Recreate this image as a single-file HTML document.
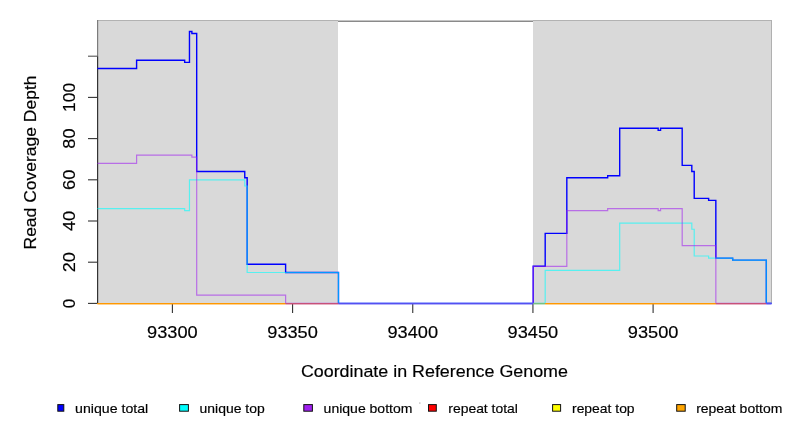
<!DOCTYPE html>
<html><head><meta charset="utf-8"><style>
html,body{margin:0;padding:0;background:#fff;width:792px;height:432px;overflow:hidden}
svg{display:block;will-change:transform}
text{font-family:"Liberation Sans",sans-serif;stroke:#000;stroke-width:0.18px;fill:#000}
</style></head><body>
<svg width="792" height="432" viewBox="0 0 792 432">
<rect x="97.40" y="20.40" width="240.60" height="283.00" fill="#d9d9d9"/>
<rect x="533" y="20.40" width="238.50" height="283.00" fill="#d9d9d9"/>
<rect x="97.40" y="20" width="240.60" height="1" fill="#b2b2b2"/>
<rect x="533" y="20" width="238.50" height="1" fill="#b2b2b2"/>
<rect x="338" y="20" width="195" height="1" fill="#c4c4c4"/>
<rect x="338" y="21" width="195" height="1" fill="#8a8a8a"/>
<rect x="771" y="20" width="1" height="283.40" fill="#b0b0b0"/>
<rect x="97" y="20" width="1.2" height="36.20" fill="#7c7c7c"/>
<rect x="97" y="56.20" width="1.2" height="247.80" fill="#333"/>
<line x1="88" x2="97.5" y1="303.40" y2="303.40" stroke="#333" stroke-width="1.1"/>
<line x1="88" x2="97.5" y1="262.20" y2="262.20" stroke="#333" stroke-width="1.1"/>
<line x1="88" x2="97.5" y1="221.00" y2="221.00" stroke="#333" stroke-width="1.1"/>
<line x1="88" x2="97.5" y1="179.80" y2="179.80" stroke="#333" stroke-width="1.1"/>
<line x1="88" x2="97.5" y1="138.60" y2="138.60" stroke="#333" stroke-width="1.1"/>
<line x1="88" x2="97.5" y1="97.40" y2="97.40" stroke="#333" stroke-width="1.1"/>
<line x1="88" x2="97.5" y1="56.20" y2="56.20" stroke="#555" stroke-width="1.1"/>
<line x1="172.40" x2="172.40" y1="303.40" y2="313" stroke="#333" stroke-width="1.1"/>
<line x1="292.58" x2="292.58" y1="303.40" y2="313" stroke="#333" stroke-width="1.1"/>
<line x1="412.75" x2="412.75" y1="303.40" y2="313" stroke="#333" stroke-width="1.1"/>
<line x1="532.93" x2="532.93" y1="303.40" y2="313" stroke="#333" stroke-width="1.1"/>
<line x1="653.10" x2="653.10" y1="303.40" y2="313" stroke="#333" stroke-width="1.1"/>
<line x1="97.40" x2="285.61" y1="303.60" y2="303.60" stroke="#ff9800" stroke-width="1.3"/>
<line x1="285.61" x2="338.49" y1="303.60" y2="303.60" stroke="#c8507a" stroke-width="1.3"/>
<line x1="338.49" x2="533.18" y1="303.60" y2="303.60" stroke="#5450f2" stroke-width="1.4"/>
<line x1="533.18" x2="545.19" y1="303.60" y2="303.60" stroke="#78c080" stroke-width="1.3"/>
<line x1="545.19" x2="715.84" y1="303.60" y2="303.60" stroke="#ff9800" stroke-width="1.3"/>
<line x1="715.84" x2="766.31" y1="303.60" y2="303.60" stroke="#c8507a" stroke-width="1.3"/>
<line x1="766.31" x2="771.50" y1="303.60" y2="303.60" stroke="#5450f2" stroke-width="1.4"/>
<path d="M97.40,68.56H136.60V60.32H184.67V62.38H189.47V31.48H191.88V33.54H196.69V171.56H244.75V177.74H247.16V264.26H285.61V272.50H338.49V303.40H533.18V266.32H545.19V233.36H566.82V177.74H607.68V175.68H619.70V128.30H658.16V130.36H660.56V128.30H682.19V165.38H691.81V171.56H694.21V198.34H708.63V200.40H715.84V258.08H732.67V260.14H766.31V303.40H771.50" fill="none" stroke="#0000ff" stroke-width="1.4"/>
<path d="M97.40,208.64H184.67V210.70H189.47V179.80H244.75V185.98H247.16V272.50H338.49V303.40H545.19V270.44H619.70V223.06H691.81V229.24H694.21V256.02H708.63V258.08H732.67V260.14H766.31V303.40H771.50" fill="none" stroke="#00ffff" stroke-width="1.2" stroke-opacity="0.6"/>
<path d="M97.40,163.32H136.60V155.08H191.88V157.14H196.69V295.16H285.61V303.40H533.18V266.32H566.82V210.70H607.68V208.64H658.16V210.70H660.56V208.64H682.19V245.72H715.84V303.40H771.50" fill="none" stroke="#a020f0" stroke-width="1.2" stroke-opacity="0.58"/>
<line x1="97.40" x2="285.61" y1="303.60" y2="303.60" stroke="#ff9800" stroke-width="1.3"/>
<line x1="285.61" x2="338.49" y1="303.60" y2="303.60" stroke="#c8507a" stroke-width="1.3"/>
<line x1="338.49" x2="533.18" y1="303.60" y2="303.60" stroke="#5450f2" stroke-width="1.4"/>
<line x1="533.18" x2="545.19" y1="303.60" y2="303.60" stroke="#78c080" stroke-width="1.3"/>
<line x1="545.19" x2="715.84" y1="303.60" y2="303.60" stroke="#ff9800" stroke-width="1.3"/>
<line x1="715.84" x2="766.31" y1="303.60" y2="303.60" stroke="#c8507a" stroke-width="1.3"/>
<line x1="766.31" x2="771.50" y1="303.60" y2="303.60" stroke="#5450f2" stroke-width="1.4"/>
<text x="172.40" y="337.8" font-family="Liberation Sans, sans-serif" font-size="17" text-anchor="middle" textLength="50.6" lengthAdjust="spacingAndGlyphs">93300</text>
<text x="292.58" y="337.8" font-family="Liberation Sans, sans-serif" font-size="17" text-anchor="middle" textLength="50.6" lengthAdjust="spacingAndGlyphs">93350</text>
<text x="412.75" y="337.8" font-family="Liberation Sans, sans-serif" font-size="17" text-anchor="middle" textLength="50.6" lengthAdjust="spacingAndGlyphs">93400</text>
<text x="532.93" y="337.8" font-family="Liberation Sans, sans-serif" font-size="17" text-anchor="middle" textLength="50.6" lengthAdjust="spacingAndGlyphs">93450</text>
<text x="653.10" y="337.8" font-family="Liberation Sans, sans-serif" font-size="17" text-anchor="middle" textLength="50.6" lengthAdjust="spacingAndGlyphs">93500</text>
<text transform="translate(75.2,303.40) rotate(-90)" font-family="Liberation Sans, sans-serif" font-size="16.6" text-anchor="middle" textLength="9.5" lengthAdjust="spacingAndGlyphs">0</text>
<text transform="translate(75.2,262.20) rotate(-90)" font-family="Liberation Sans, sans-serif" font-size="16.6" text-anchor="middle" textLength="20.2" lengthAdjust="spacingAndGlyphs">20</text>
<text transform="translate(75.2,221.00) rotate(-90)" font-family="Liberation Sans, sans-serif" font-size="16.6" text-anchor="middle" textLength="20.2" lengthAdjust="spacingAndGlyphs">40</text>
<text transform="translate(75.2,179.80) rotate(-90)" font-family="Liberation Sans, sans-serif" font-size="16.6" text-anchor="middle" textLength="20.2" lengthAdjust="spacingAndGlyphs">60</text>
<text transform="translate(75.2,138.60) rotate(-90)" font-family="Liberation Sans, sans-serif" font-size="16.6" text-anchor="middle" textLength="20.2" lengthAdjust="spacingAndGlyphs">80</text>
<text transform="translate(75.2,97.40) rotate(-90)" font-family="Liberation Sans, sans-serif" font-size="16.6" text-anchor="middle" textLength="29.1" lengthAdjust="spacingAndGlyphs">100</text>
<text transform="translate(35.8,162.5) rotate(-90)" font-family="Liberation Sans, sans-serif" font-size="16.2" text-anchor="middle" textLength="174" lengthAdjust="spacingAndGlyphs">Read Coverage Depth</text>
<text x="434.4" y="376.9" font-family="Liberation Sans, sans-serif" font-size="16.8" text-anchor="middle" textLength="267" lengthAdjust="spacingAndGlyphs">Coordinate in Reference Genome</text>
<rect x="57.80" y="404.6" width="6.00" height="6.6" fill="#0000ff" stroke="#111" stroke-width="1"/>
<text x="75.10" y="412.6" font-family="Liberation Sans, sans-serif" font-size="13.6" textLength="73.10" lengthAdjust="spacingAndGlyphs">unique total</text>
<rect x="179.60" y="404.6" width="8.80" height="6.6" fill="#00ffff" stroke="#111" stroke-width="1"/>
<text x="199.60" y="412.6" font-family="Liberation Sans, sans-serif" font-size="13.6" textLength="65.10" lengthAdjust="spacingAndGlyphs">unique top</text>
<rect x="303.80" y="404.6" width="8.60" height="6.6" fill="#a020f0" stroke="#111" stroke-width="1"/>
<text x="323.60" y="412.6" font-family="Liberation Sans, sans-serif" font-size="13.6" textLength="88.80" lengthAdjust="spacingAndGlyphs">unique bottom</text>
<rect x="428.50" y="404.6" width="7.80" height="6.6" fill="#ff0000" stroke="#111" stroke-width="1"/>
<text x="448.30" y="412.6" font-family="Liberation Sans, sans-serif" font-size="13.6" textLength="69.60" lengthAdjust="spacingAndGlyphs">repeat total</text>
<rect x="552.60" y="404.6" width="8.00" height="6.6" fill="#ffff00" stroke="#111" stroke-width="1"/>
<text x="572.00" y="412.6" font-family="Liberation Sans, sans-serif" font-size="13.6" textLength="62.60" lengthAdjust="spacingAndGlyphs">repeat top</text>
<rect x="676.70" y="404.6" width="8.50" height="6.6" fill="#ffa500" stroke="#111" stroke-width="1"/>
<text x="696.20" y="412.6" font-family="Liberation Sans, sans-serif" font-size="13.6" textLength="86.10" lengthAdjust="spacingAndGlyphs">repeat bottom</text>
<rect x="419" y="402.6" width="1.6" height="0.9" fill="#aaa"/>
</svg>
</body></html>
